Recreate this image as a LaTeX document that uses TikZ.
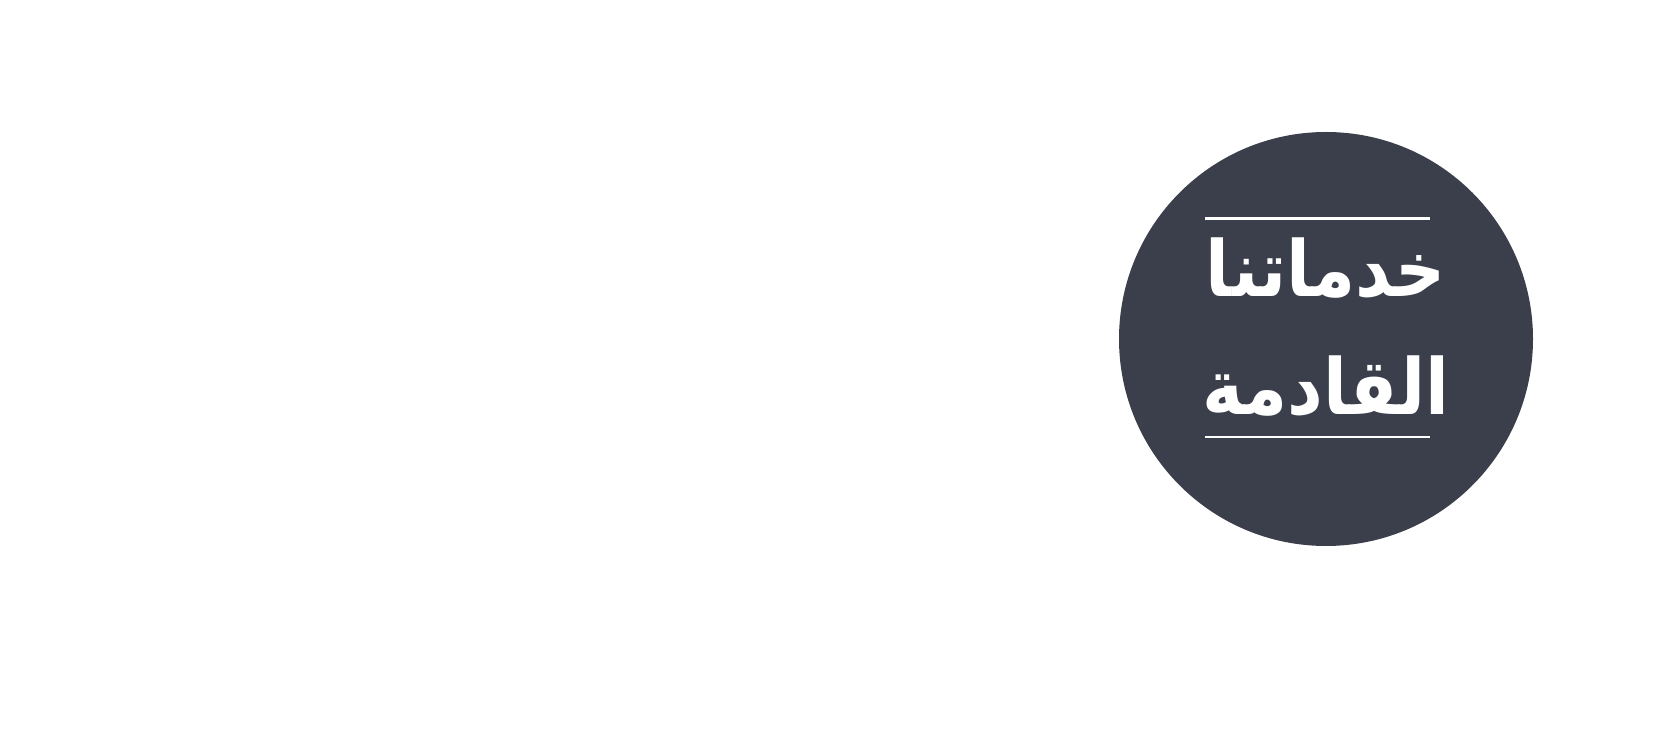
\documentclass[tikz,border=0pt]{standalone}
\usepackage{fontspec}
\usepackage{tikz}
\usetikzlibrary{positioning}
\TeXXeTstate=1
\newfontfamily\arabicfont[Script=Arabic]{DejaVu Sans Condensed}
\definecolor{badgegray}{HTML}{3A3F4B}
\tikzstyle{badge} = [circle, fill=badgegray, minimum size=8.28cm, inner sep=0pt]
\tikzstyle{title} = [text=white, font=\arabicfont\bfseries\fontsize{44}{44}\selectfont, inner sep=0pt]
\tikzstyle{rule} = [white, line width=1.7pt]

\begin{document}
\begin{tikzpicture}
			\useasboundingbox (0,0) rectangle (33.5,14.78);
			\node (circle) [badge] at (26.52,8.0) {};
			\node (line1) [title, anchor=base] at (26.52,8.84) {\beginR خدماتنا\endR};
			\node (line2) [title, below=2.36cm of line1.base, anchor=base] {\beginR القادمة\endR};
			\coordinate (topl) at (24.1,10.4);
			\coordinate (topr) at (28.6,10.4);
			\coordinate (botl) at (24.1,6.04);
			\coordinate (botr) at (28.6,6.04);

			\draw [rule] (topl) -- (topr);
			\draw [rule] (botl) -- (botr);
		\end{tikzpicture}
\end{document}
